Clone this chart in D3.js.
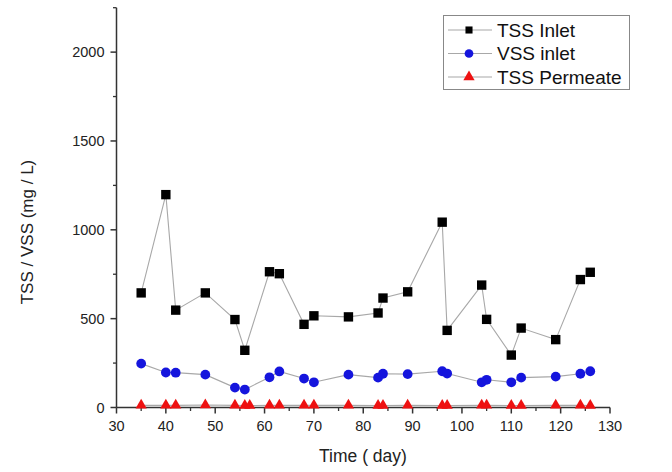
<!DOCTYPE html>
<html>
<head>
<meta charset="utf-8">
<script src="https://cdn.jsdelivr.net/npm/d3@7"></script>
<style>
  html, body { margin: 0; padding: 0; background: #fff; }
  svg { display: block; font-family: "Liberation Sans", Arial, sans-serif; }
</style>
</head>
<body>
<svg id="chart" width="672" height="472"></svg>
<script>
// Sampling days
const tssDays = [35, 40, 42, 48, 54, 56, 61, 63, 68, 70, 77, 83, 84, 89, 96, 97, 104, 105, 110, 112, 119, 124, 126];
const vssDays = [35, 40, 42, 48, 54, 56, 61, 63, 68, 70, 77, 83, 84, 89, 96, 97, 104, 105, 110, 112, 119, 124, 126];
const permDays = [35, 40, 42, 48, 54, 56, 57, 61, 63, 68, 70, 77, 83, 84, 89, 96, 97, 104, 105, 110, 112, 119, 124, 126];

// Concentrations (mg/L)
const tssInlet = [645, 1198, 548, 645, 495, 322, 764, 753, 468, 516, 510, 532, 616, 651, 1043, 434, 689, 496, 295, 447, 382, 720, 761];
const vssInlet = [247, 197, 196, 185, 112, 101, 170, 203, 163, 142, 185, 168, 190, 188, 204, 191, 142, 156, 142, 168, 174, 190, 204];
const tssPermeate = [12, 12, 12, 14, 12, 11, 11, 12, 12, 13, 12, 12, 11, 11, 12, 11, 11, 12, 12, 11, 11, 12, 12, 11];

const xTicks = [30, 40, 50, 60, 70, 80, 90, 100, 110, 120, 130];
const yTicks = [0, 500, 1000, 1500, 2000];
const legendLabels = ["TSS Inlet", "VSS inlet", "TSS Permeate"];

const svg = d3.select("#chart");
const x = d3.scaleLinear().domain([30, 130]).range([116.5, 610]);
const y = d3.scaleLinear().domain([0, 2250]).range([407.5, 7.7]);
const axisColor = "#333";

// Minor ticks
const xMinor = d3.range(35, 130, 10);
const yMinor = d3.range(250, 2251, 500);

// X axis
const gx = svg.append("g").attr("transform", `translate(0,${y(0)})`);
gx.append("line").attr("x1", x(30)).attr("x2", x(130)).attr("stroke", axisColor).attr("stroke-width", 1.5);
gx.selectAll(".maj").data(xTicks).join("line")
  .attr("x1", d => x(d)).attr("x2", d => x(d)).attr("y1", 0).attr("y2", 6)
  .attr("stroke", axisColor).attr("stroke-width", 1.5);
gx.selectAll(".min").data(xMinor).join("line")
  .attr("x1", d => x(d)).attr("x2", d => x(d)).attr("y1", 0).attr("y2", 3.5)
  .attr("stroke", axisColor).attr("stroke-width", 1.3);
gx.selectAll("text").data(xTicks).join("text")
  .attr("x", d => x(d)).attr("y", 23)
  .attr("text-anchor", "middle").attr("font-size", 14.5).attr("fill", "#222")
  .text(d => d);

// Y axis
const gy = svg.append("g").attr("transform", `translate(${x(30)},0)`);
gy.append("line").attr("y1", y(0)).attr("y2", y(2250)).attr("stroke", axisColor).attr("stroke-width", 1.5);
gy.selectAll(".maj").data(yTicks).join("line")
  .attr("y1", d => y(d)).attr("y2", d => y(d)).attr("x1", 0).attr("x2", -6)
  .attr("stroke", axisColor).attr("stroke-width", 1.5);
gy.selectAll(".min").data(yMinor).join("line")
  .attr("y1", d => y(d)).attr("y2", d => y(d)).attr("x1", 0).attr("x2", -3.5)
  .attr("stroke", axisColor).attr("stroke-width", 1.3);
gy.selectAll("text").data(yTicks).join("text")
  .attr("x", -12).attr("y", d => y(d) + 5)
  .attr("text-anchor", "end").attr("font-size", 14.5).attr("fill", "#222")
  .text(d => d);

// Axis titles
svg.append("text").attr("x", 363).attr("y", 462).attr("text-anchor", "middle")
  .attr("font-size", 17.5).attr("fill", "#222").text("Time ( day)");
svg.append("text").attr("transform", "translate(33,232) rotate(-90)").attr("text-anchor", "middle")
  .attr("font-size", 17).attr("fill", "#222").text("TSS / VSS (mg / L)");

const lineColor = "#a8a8a8";
const line = d3.line().x(d => x(d[0])).y(d => y(d[1]));

function drawSeries(days, vals, symbolType, size, color) {
  const pts = days.map((d, i) => [d, vals[i]]);
  svg.append("path").datum(pts).attr("d", line)
    .attr("fill", "none").attr("stroke", lineColor).attr("stroke-width", 1.1);
  svg.append("g").selectAll("path").data(pts).join("path")
    .attr("transform", d => `translate(${x(d[0])},${y(d[1])})`)
    .attr("d", d3.symbol().type(symbolType).size(size))
    .attr("fill", color);
}

drawSeries(permDays, tssPermeate, d3.symbolTriangle, 55, "#ee1111");
drawSeries(vssDays, vssInlet, d3.symbolCircle, 75, "#1515dd");
drawSeries(tssDays, tssInlet, d3.symbolSquare, 88, "#000");

// Legend
const legend = svg.append("g");
legend.append("rect").attr("x", 443.5).attr("y", 15.5).attr("width", 186).attr("height", 74)
  .attr("fill", "#fff").attr("stroke", "#888").attr("stroke-width", 1);
const legendSymbols = [[d3.symbolSquare, 50, "#000"], [d3.symbolCircle, 60, "#1515dd"], [d3.symbolTriangle, 55, "#ee1111"]];
legendLabels.forEach((lab, i) => {
  const cy = 30 + i * 23.5;
  legend.append("line").attr("x1", 448).attr("x2", 492).attr("y1", cy).attr("y2", cy)
    .attr("stroke", lineColor).attr("stroke-width", 1.1);
  legend.append("path").attr("transform", `translate(469,${cy})`)
    .attr("d", d3.symbol().type(legendSymbols[i][0]).size(legendSymbols[i][1]))
    .attr("fill", legendSymbols[i][2]);
  legend.append("text").attr("x", 497).attr("y", cy + 6.5)
    .attr("font-size", 19).attr("fill", "#111").text(lab);
});
</script>
</body>
</html>
